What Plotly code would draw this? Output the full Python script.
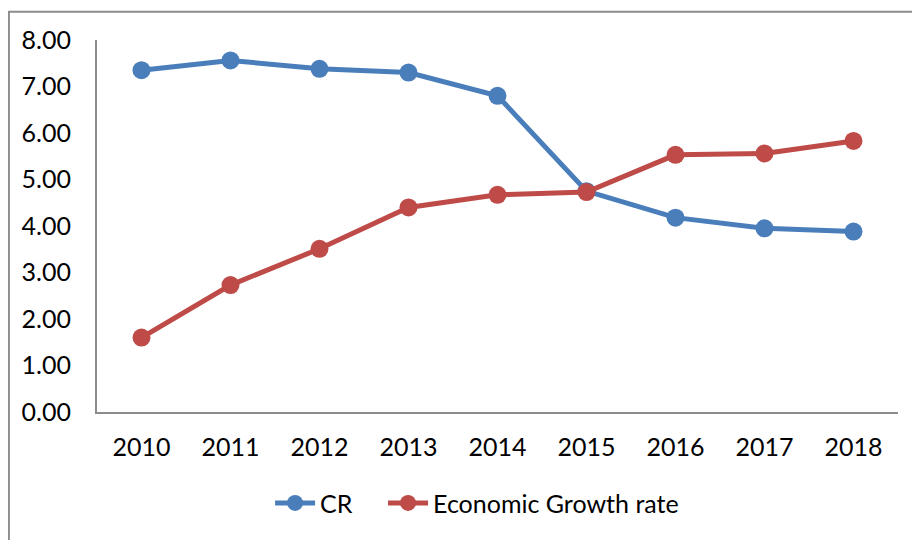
import plotly.graph_objects as go

years = ["2010", "2011", "2012", "2013", "2014", "2015", "2016", "2017", "2018"]
cr = [7.35, 7.56, 7.38, 7.30, 6.80, 4.75, 4.18, 3.95, 3.88]
growth = [1.60, 2.73, 3.51, 4.40, 4.67, 4.73, 5.53, 5.56, 5.83]
y_ticks = [0, 1, 2, 3, 4, 5, 6, 7, 8]
y_labels = ["%.2f" % v for v in y_ticks]

BLUE = "#4A7EBB"
RED = "#BE4B48"
AXIS = "#8C8C8C"
FONT = "Lato"
FS = 25

fig = go.Figure()
fig.add_trace(go.Scatter(x=years, y=cr, name="CR\u00a0\u00a0\u00a0\u00a0", mode="lines+markers",
                         line=dict(color=BLUE, width=5),
                         marker=dict(color=BLUE, size=18)))
fig.add_trace(go.Scatter(x=years, y=growth, name="Economic Growth rate", mode="lines+markers",
                         line=dict(color=RED, width=5),
                         marker=dict(color=RED, size=18)))

fig.update_layout(
    width=920, height=540,
    margin=dict(l=89, r=30, t=32, b=136),
    paper_bgcolor="white", plot_bgcolor="white",
    font=dict(family=FONT, size=FS, color="black"),
    showlegend=True,
    legend=dict(orientation="h", x=0.4745, xanchor="center", y=-0.245, yanchor="middle",
                font=dict(family=FONT, size=FS, color="black"),
                itemwidth=40, tracegroupgap=0),
    xaxis=dict(type="category", range=[-0.5, 8.5], showgrid=False, zeroline=False,
               showline=True, linecolor=AXIS, linewidth=2,
               ticks="outside", ticklen=12, tickcolor="rgba(0,0,0,0)",
               tickfont=dict(family=FONT, size=FS)),
    yaxis=dict(range=[0, 8], tickvals=y_ticks, ticktext=y_labels,
               showgrid=False, zeroline=False,
               showline=True, linecolor=AXIS, linewidth=2,
               ticks="outside", ticklen=19, tickcolor="rgba(0,0,0,0)",
               tickfont=dict(family=FONT, size=FS)),
    shapes=[dict(type="rect", xref="paper", yref="paper",
                 x0=-0.110, x1=1.2, y0=-0.6, y1=1.076,
                 line=dict(color=AXIS, width=2), fillcolor="rgba(0,0,0,0)", layer="below")],
)

fig.write_html("out.html")
